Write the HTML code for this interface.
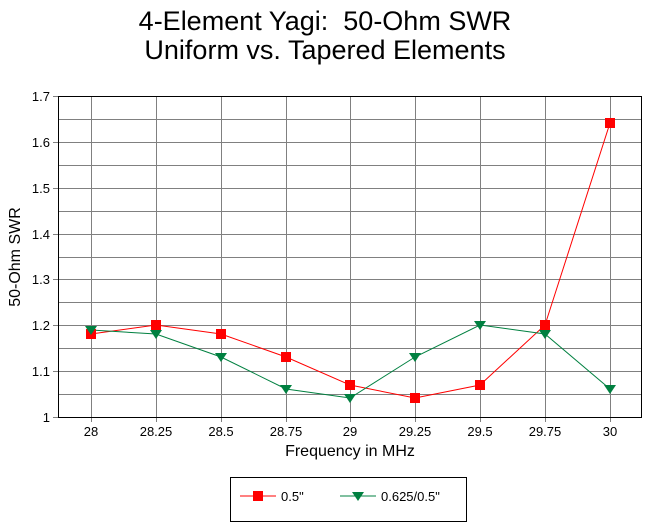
<!DOCTYPE html>
<html><head><style>body{margin:0;background:#fff}</style></head><body>
<svg width="650" height="527" xmlns="http://www.w3.org/2000/svg" font-family="Liberation Sans, Arial, sans-serif">
<rect width="650" height="527" fill="#fff"/>
<text x="325" y="30" font-size="27" text-anchor="middle">4-Element Yagi:&#160; 50-Ohm SWR</text>
<text x="325" y="59" font-size="27" text-anchor="middle">Uniform vs. Tapered Elements</text>
<g stroke="#808080" stroke-width="1">
<line x1="58" x2="642" y1="119.5" y2="119.5"/><line x1="58" x2="642" y1="142.5" y2="142.5"/>
<line x1="58" x2="642" y1="165.5" y2="165.5"/><line x1="58" x2="642" y1="188.5" y2="188.5"/>
<line x1="58" x2="642" y1="211.5" y2="211.5"/><line x1="58" x2="642" y1="234.5" y2="234.5"/>
<line x1="58" x2="642" y1="257.5" y2="257.5"/><line x1="58" x2="642" y1="279.5" y2="279.5"/>
<line x1="58" x2="642" y1="302.5" y2="302.5"/><line x1="58" x2="642" y1="325.5" y2="325.5"/>
<line x1="58" x2="642" y1="348.5" y2="348.5"/><line x1="58" x2="642" y1="371.5" y2="371.5"/>
<line x1="58" x2="642" y1="394.5" y2="394.5"/>
<line x1="91.5" x2="91.5" y1="96" y2="422"/><line x1="156.5" x2="156.5" y1="96" y2="422"/>
<line x1="221.5" x2="221.5" y1="96" y2="422"/><line x1="286.5" x2="286.5" y1="96" y2="422"/>
<line x1="350.5" x2="350.5" y1="96" y2="422"/><line x1="415.5" x2="415.5" y1="96" y2="422"/>
<line x1="480.5" x2="480.5" y1="96" y2="422"/><line x1="545.5" x2="545.5" y1="96" y2="422"/>
<line x1="610.5" x2="610.5" y1="96" y2="422"/>
<line x1="53" x2="58" y1="96.5" y2="96.5"/><line x1="53" x2="58" y1="142.5" y2="142.5"/>
<line x1="53" x2="58" y1="188.5" y2="188.5"/><line x1="53" x2="58" y1="234.5" y2="234.5"/>
<line x1="53" x2="58" y1="279.5" y2="279.5"/><line x1="53" x2="58" y1="325.5" y2="325.5"/>
<line x1="53" x2="58" y1="371.5" y2="371.5"/><line x1="53" x2="58" y1="417.5" y2="417.5"/>
</g>
<rect x="58.5" y="96.5" width="583" height="321" fill="none" stroke="#000"/>
<g font-size="13" text-anchor="end">
<text x="50" y="101">1.7</text><text x="50" y="147">1.6</text><text x="50" y="193">1.5</text>
<text x="50" y="239">1.4</text><text x="50" y="284">1.3</text><text x="50" y="330">1.2</text>
<text x="50" y="376">1.1</text><text x="50" y="422">1</text>
</g>
<g font-size="13" text-anchor="middle">
<text x="91" y="436">28</text><text x="156" y="436">28.25</text><text x="221" y="436">28.5</text>
<text x="286" y="436">28.75</text><text x="350" y="436">29</text><text x="415" y="436">29.25</text>
<text x="480" y="436">29.5</text><text x="545" y="436">29.75</text><text x="610" y="436">30</text>
</g>
<text x="350" y="456" font-size="16" text-anchor="middle">Frequency in MHz</text>
<text transform="translate(20,257) rotate(-90)" font-size="16" text-anchor="middle">50-Ohm SWR</text>
<polyline fill="none" stroke="#ff0000" points="91,334 156,325 221,334 286,357 350,385 415,398 480,385 545,325 610,123"/>
<polyline fill="none" stroke="#008040" points="91,330 156,334 221,357 286,389 350,398 415,357 480,325 545,334 610,389"/>
<g fill="#ff0000">
<rect x="86" y="329" width="10" height="10"/><rect x="151" y="320" width="10" height="10"/>
<rect x="216" y="329" width="10" height="10"/><rect x="281" y="352" width="10" height="10"/>
<rect x="345" y="380" width="10" height="10"/><rect x="410" y="393" width="10" height="10"/>
<rect x="475" y="380" width="10" height="10"/><rect x="540" y="320" width="10" height="10"/>
<rect x="605" y="118" width="10" height="10"/>
</g>
<g fill="#008040">
<polygon points="85,326 97,326 91,335"/><polygon points="150,330 162,330 156,339"/>
<polygon points="215,353 227,353 221,362"/><polygon points="280,385 292,385 286,394"/>
<polygon points="344,394 356,394 350,403"/><polygon points="409,353 421,353 415,362"/>
<polygon points="474,321 486,321 480,330"/><polygon points="539,330 551,330 545,339"/>
<polygon points="604,385 616,385 610,394"/>
</g>
<rect x="230.5" y="477.5" width="236" height="44" fill="none" stroke="#000"/>
<line x1="240" x2="276" y1="496" y2="496" stroke="#ff0000"/>
<rect x="253" y="491" width="10" height="10" fill="#ff0000"/>
<text x="281" y="501" font-size="13">0.5"</text>
<line x1="340" x2="376" y1="496" y2="496" stroke="#008040"/>
<polygon points="352,492 364,492 358,501" fill="#008040"/>
<text x="381" y="501" font-size="13">0.625/0.5"</text>
</svg>
</body></html>
